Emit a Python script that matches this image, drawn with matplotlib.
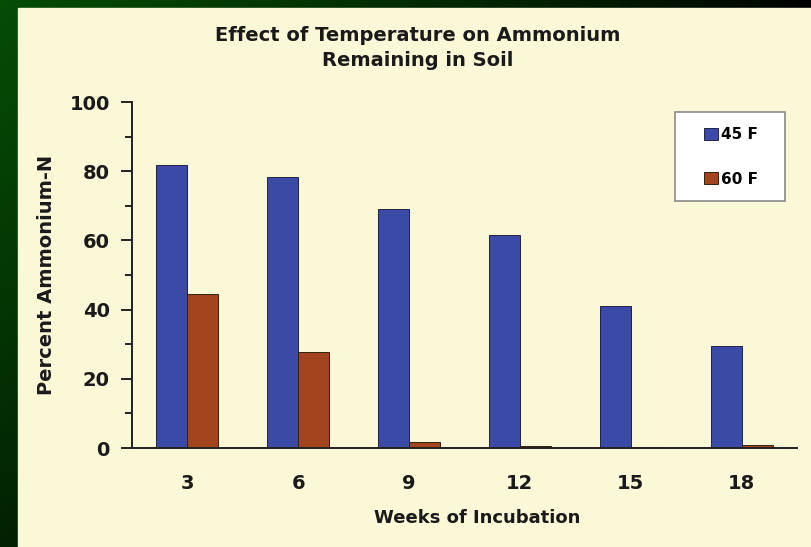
import numpy as np
import matplotlib
matplotlib.use("Agg")
import matplotlib.pyplot as plt
from matplotlib.ticker import MultipleLocator

plt.rcParams['font.family'] = ['DejaVu Sans']
plt.rcParams['font.weight'] = 'bold'

weeks = ["3", "6", "9", "12", "15", "18"]
temp_45 = [81.8, 78.3, 69.2, 61.5, 41.0, 29.5]
temp_60 = [44.5, 27.7, 1.7, 0.5, 0.3, 0.8]
series_names = ["45 F", "60 F"]

W, H = 812, 547
fig = plt.figure(figsize=(W / 100, H / 100), dpi=100)

# background: dark green gradient, fading to black right/bottom
bg = fig.add_axes([0, 0, 1, 1])
gx = np.linspace(1, 0, 200)
gy = np.linspace(1, 0.35, 200)
g = np.outer(gy, gx) ** 0.8
rgb = np.zeros((200, 200, 3))
rgb[..., 1] = 0.30 * g
rgb[..., 0] = 0.02 * g
rgb[..., 2] = 0.02 * g
bg.imshow(rgb, extent=[0, 1, 0, 1], aspect='auto')
bg.add_patch(plt.Rectangle((18 / W, 0), 1, 1 - 8 / H, color="#faf8d6", zorder=2))
# legend box
bg.add_patch(plt.Rectangle((675 / W, 1 - 201 / H), 110 / W, 89 / H, facecolor="white",
                           edgecolor="#8a8a8a", linewidth=1.2, zorder=3))
bg.set_xlim(0, 1)
bg.set_ylim(0, 1)
bg.axis('off')

ax = fig.add_axes([132 / W, 1 - 448 / H, (797 - 132) / W, (448 - 102) / H])
ax.set_facecolor("none")

x = np.arange(len(weeks))
bw = 0.28
ax.bar(x - bw / 2, temp_45, bw, color="#3a4aa6", edgecolor="#222244", linewidth=0.7,
       label=series_names[0])
ax.bar(x + bw / 2, temp_60, bw, color="#a2451f", edgecolor="#332211", linewidth=0.7,
       label=series_names[1])

ax.set_xlim(-0.5, len(weeks) - 0.5)
ax.set_ylim(0, 100)
ax.set_xticks(x)
ax.set_xticklabels(weeks)
ax.yaxis.set_major_locator(MultipleLocator(20))
ax.yaxis.set_minor_locator(MultipleLocator(10))
ax.tick_params(axis='x', length=0, pad=19, labelsize=14, labelcolor="#1a1a1a")
ax.tick_params(axis='y', which='major', length=8, width=1.2, labelsize=14, pad=8,
               labelcolor="#1a1a1a")
ax.tick_params(axis='y', which='minor', length=5, width=1.2)
for s in ["top", "right"]:
    ax.spines[s].set_visible(False)
for s in ["left", "bottom"]:
    ax.spines[s].set_linewidth(1.4)
    ax.spines[s].set_color("#222222")

ax.set_xlabel("Weeks of Incubation", fontsize=13, fontweight='bold', color="#1a1a1a")
ax.xaxis.set_label_coords((477 - 132) / (797 - 132), -(509 - 448) / (448 - 102))
ax.set_ylabel("Percent Ammonium-N", fontsize=14, fontweight='bold', labelpad=10,
              color="#1a1a1a")

fig.text(418 / W, 1 - 48 / H, "Effect of Temperature on Ammonium\nRemaining in Soil",
         ha='center', va='center', fontsize=14, fontweight='bold', linespacing=1.45,
         color="#1a1a1a")

leg = fig.legend(loc='center', bbox_to_anchor=(731 / W, 1 - 157 / H),
                 fontsize=11, frameon=False, handlelength=0.9,
                 handleheight=0.8, handletextpad=0.15, labelspacing=1.9,
                 borderpad=0)
leg.set_zorder(5)

fig.savefig("out.png", dpi=100)
